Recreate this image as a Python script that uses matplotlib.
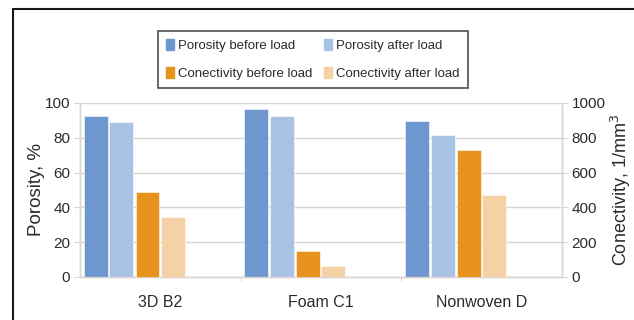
import numpy as np
import matplotlib.pyplot as plt
from matplotlib.patches import Rectangle, Patch

plt.rcParams['font.family'] = ['Liberation Sans', 'DejaVu Sans']

samples = ['3D B2', 'Foam C1', 'Nonwoven D']
porosity_before = [92.5, 96.6, 89.8]
porosity_after = [89.3, 92.5, 81.8]
connectivity_before = [487, 148, 732]
connectivity_after = [347, 61, 469]

c_por_before = '#6e97cf'
c_por_after = '#a9c3e4'
c_con_before = '#e8931e'
c_con_after = '#f4d2a5'
grid_c = '#ddd3d0'
text_c = '#2b2b2b'

fig = plt.figure(figsize=(6.34, 3.2), dpi=100)
ax = fig.add_axes([80 / 634, 1 - 277 / 320, 482 / 634, 174 / 320])
ax2 = ax.twinx()

x = np.arange(len(samples))
w = 0.149
offs = [-0.403, -0.243, -0.080, 0.076]

ax.bar(x + offs[0], porosity_before, w, color=c_por_before, edgecolor='white', linewidth=0.4, zorder=3)
ax.bar(x + offs[1], porosity_after, w, color=c_por_after, edgecolor='white', linewidth=0.4, zorder=3)
ax2.bar(x + offs[2], connectivity_before, w, color=c_con_before, edgecolor='white', linewidth=0.4, zorder=3)
ax2.bar(x + offs[3], connectivity_after, w, color=c_con_after, edgecolor='white', linewidth=0.4, zorder=3)

ax.set_xlim(-0.5, 2.5)
ax.set_ylim(0, 100)
ax2.set_ylim(0, 1000)
ax.set_yticks(np.arange(0, 101, 20))
ax2.set_yticks(np.arange(0, 1001, 200))
ax.yaxis.grid(True, color=grid_c, linewidth=1.0, zorder=0)
ax.set_axisbelow(True)

ax.set_xticks(x)
ax.set_xticklabels(samples, fontsize=11.5, color=text_c)
ax.set_xticks([0.5, 1.5], minor=True)
ax.tick_params(axis='x', which='major', length=0, pad=13)
ax.tick_params(axis='x', which='minor', length=3, color=grid_c)
ax.tick_params(axis='y', length=4, color=grid_c, labelsize=11, labelcolor=text_c, pad=3)
ax2.tick_params(axis='y', length=4, color=grid_c, labelsize=11, labelcolor=text_c, pad=3)

for a in (ax, ax2):
    a.spines['top'].set_visible(False)
    for s in ('left', 'right', 'bottom'):
        a.spines[s].set_color(grid_c)
        a.spines[s].set_linewidth(1.0)

ax.set_ylabel('Porosity, %', fontsize=13.5, color=text_c, labelpad=0)
ax2.set_ylabel('Conectivity, 1/mm$^3$', fontsize=13, color=text_c, labelpad=2)

handles = [Patch(color=c_por_before), Patch(color=c_con_before),
           Patch(color=c_por_after), Patch(color=c_con_after)]
labels = ['Porosity before load', 'Conectivity before load',
          'Porosity after load', 'Conectivity after load']
leg = fig.legend(handles, labels, ncol=2, loc='center',
                 bbox_to_anchor=(313 / 634, 1 - 59.5 / 320),
                 fontsize=9.5, frameon=True, fancybox=False,
                 handlelength=0.6, handleheight=0.9, handletextpad=0.3,
                 columnspacing=0.9, labelspacing=1.15, borderpad=0.6)
leg.get_frame().set_edgecolor('#222222')
leg.get_frame().set_linewidth(1.2)
for t in leg.get_texts():
    t.set_color(text_c)

# outer panel border
fig.patches.append(Rectangle((13 / 634, -0.1), 1.2, 1.1 - 9 / 320,
                             transform=fig.transFigure, fill=False,
                             edgecolor='#1a1a1a', linewidth=1.5))

fig.savefig('out.png', dpi=100)
